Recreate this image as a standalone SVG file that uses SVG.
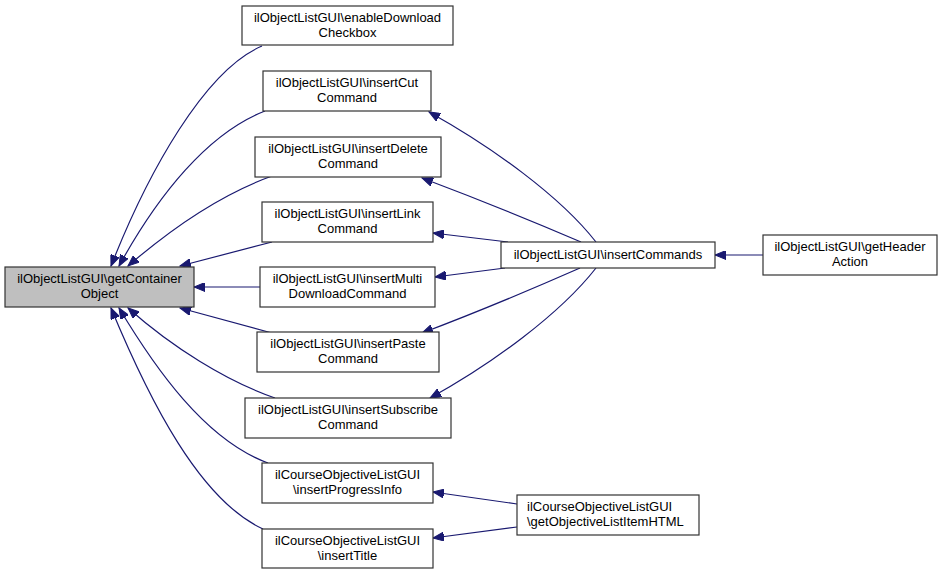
<svg xmlns="http://www.w3.org/2000/svg" width="944" height="575" viewBox="0 0 944 575">
<defs>
<style>
.node rect{fill:#ffffff;stroke:#333333;stroke-width:1.2}
.node.cur rect{fill:#bfbfbf}
.node text{font-family:"Liberation Sans",Arial,Helvetica,sans-serif;font-size:13px;fill:#000000;text-anchor:middle}
.node text.l{text-anchor:start}
.edges path{fill:none;stroke:#191970;stroke-width:1.2;marker-end:url(#arr)}
</style>
<marker id="arr" markerUnits="userSpaceOnUse" markerWidth="12" markerHeight="9" refX="11" refY="4.5" orient="auto" viewBox="0 0 12 9">
<path d="M0,0 L11,4.5 L0,9 z" fill="#191970" stroke="#191970" stroke-width="1"/>
</marker>
</defs>
<rect x="0" y="0" width="944" height="575" fill="#ffffff"/>
<g class="edges">
<path d="M262,46 C205,70 148,172 111,266"/>
<path d="M265,111 C208,133 158,195 119,266"/>
<path d="M272,176 C222,194 172,228 128,266"/>
<path d="M272,242 L180,266"/>
<path d="M260,287 L194,287"/>
<path d="M272,333 L180,308"/>
<path d="M275,398 C226,381 172,347 128,308"/>
<path d="M268,463 C205,440 155,368 119,308"/>
<path d="M263,529 C200,500 150,402 111,308"/>
<path d="M596,242 C560,196 492,147 429,112"/>
<path d="M581,242 C530,220 475,198 422,178"/>
<path d="M508,242 L433,233"/>
<path d="M505,268 L435,277"/>
<path d="M580,268 C530,290 475,313 422,333"/>
<path d="M596,268 C560,314 492,364 430,398"/>
<path d="M763,255 L715,255"/>
<path d="M517,504 L433,492"/>
<path d="M517,527 L433,538"/>
</g>
<g id="n_getContainerObject" class="node cur"><rect x="5" y="267" width="189" height="40"/><text x="99.5" y="283">ilObjectListGUI\getContainer</text><text x="99.5" y="298">Object</text></g>
<g id="n_enableDownloadCheckbox" class="node"><rect x="242" y="6" width="211" height="39"/><text x="347.5" y="22">ilObjectListGUI\enableDownload</text><text x="347.5" y="37">Checkbox</text></g>
<g id="n_insertCutCommand" class="node"><rect x="263" y="71" width="168" height="40"/><text x="347" y="87">ilObjectListGUI\insertCut</text><text x="347" y="102">Command</text></g>
<g id="n_insertDeleteCommand" class="node"><rect x="255" y="137" width="186" height="40"/><text x="348" y="153">ilObjectListGUI\insertDelete</text><text x="348" y="168">Command</text></g>
<g id="n_insertLinkCommand" class="node"><rect x="262" y="202" width="171" height="40"/><text x="347.5" y="218">ilObjectListGUI\insertLink</text><text x="347.5" y="233">Command</text></g>
<g id="n_insertMultiDownloadCommand" class="node"><rect x="260" y="267" width="175" height="40"/><text x="347.5" y="283">ilObjectListGUI\insertMulti</text><text x="347.5" y="298">DownloadCommand</text></g>
<g id="n_insertPasteCommand" class="node"><rect x="257" y="332" width="182" height="40"/><text x="348" y="348">ilObjectListGUI\insertPaste</text><text x="348" y="363">Command</text></g>
<g id="n_insertSubscribeCommand" class="node"><rect x="245" y="398" width="206" height="40"/><text x="348" y="414">ilObjectListGUI\insertSubscribe</text><text x="348" y="429">Command</text></g>
<g id="n_insertProgressInfo" class="node"><rect x="262" y="463" width="171" height="40"/><text x="347.5" y="479">ilCourseObjectiveListGUI</text><text x="347.5" y="494">\insertProgressInfo</text></g>
<g id="n_insertTitle" class="node"><rect x="262" y="529" width="171" height="39"/><text x="347.5" y="545">ilCourseObjectiveListGUI</text><text x="347.5" y="560">\insertTitle</text></g>
<g id="n_insertCommands" class="node"><rect x="501" y="242" width="214" height="26"/><text x="608" y="259">ilObjectListGUI\insertCommands</text></g>
<g id="n_getHeaderAction" class="node"><rect x="763" y="235" width="174" height="40"/><text x="850" y="251">ilObjectListGUI\getHeader</text><text x="850" y="266">Action</text></g>
<g id="n_getObjectiveListItemHTML" class="node"><rect x="517" y="495" width="182" height="40"/><text class="l" x="527" y="511">ilCourseObjectiveListGUI</text><text class="l" x="527" y="526">\getObjectiveListItemHTML</text></g>
</svg>
